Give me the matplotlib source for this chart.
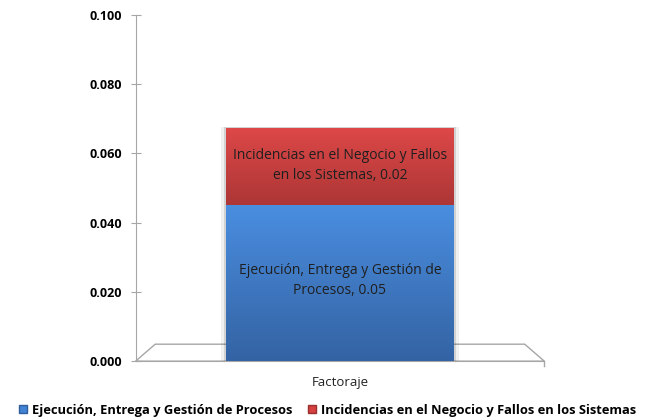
import matplotlib.pyplot as plt
import numpy as np
from matplotlib.patches import Polygon, Rectangle

categories = ['Factoraje']
series_names = ['Ejecución, Entrega y Gestión de Procesos',
                'Incidencias en el Negocio y Fallos en los Sistemas']
blue_vals = [0.0452]
red_vals = [0.0223]
label_vals = ['0.05', '0.02']

plt.rcParams['font.family'] = ['Open Sans', 'DejaVu Sans']

fig = plt.figure(figsize=(6.55, 4.18), dpi=100)
ax = fig.add_axes([0.207, 0.136, 0.624, 0.828])

x = np.arange(len(categories))
width = 0.557

# floor of the pseudo-3d plot area
floor = Polygon([(0.048, 0.049), (0.952, 0.049), (1.0, 0.0), (0.0, 0.0)],
                closed=True, transform=ax.transAxes, facecolor='white',
                edgecolor='#a6a6a6', lw=1.0, zorder=1, clip_on=False)
ax.add_patch(floor)

def gradient_bar(xc, bottom, height, top_col, bot_col, zorder):
    bars = ax.bar(xc, height, width, bottom=bottom, color='none',
                  edgecolor='none', zorder=zorder)
    for b in bars:
        x0, y0 = b.get_x(), b.get_y()
        w, h = b.get_width(), b.get_height()
        grad = np.linspace(0, 1, 256).reshape(-1, 1)
        c0 = np.array(plt.matplotlib.colors.to_rgb(bot_col))
        c1 = np.array(plt.matplotlib.colors.to_rgb(top_col))
        img = c0 + (c1 - c0) * grad[..., None]
        im = ax.imshow(img, extent=[x0, x0 + w, y0, y0 + h], origin='lower',
                       aspect='auto', zorder=zorder, interpolation='bicubic')
        im.set_clip_path(b)
    return bars

# soft shadow
for off, a in [(0.006, 0.12), (0.012, 0.06)]:
    ax.add_patch(Rectangle((x[0] - width / 2 - off, 0), width + 2 * off,
                           blue_vals[0] + red_vals[0] + off * 0.01,
                           facecolor='black', alpha=a, lw=0, zorder=2))

gradient_bar(x, 0, blue_vals, '#4a8ee0', '#3463a3', 3)
gradient_bar(x, blue_vals, red_vals, '#de4848', '#ad3636', 3)

ax.text(x[0], blue_vals[0] * 0.5 + 0.0006,
        'Ejecución, Entrega y Gestión de\nProcesos, ' + label_vals[0],
        ha='center', va='center', fontsize=10, color='#1f1f1f', zorder=5,
        linespacing=1.45)
ax.text(x[0], blue_vals[0] + red_vals[0] * 0.5 + 0.0002,
        'Incidencias en el Negocio y Fallos\nen los Sistemas, ' + label_vals[1],
        ha='center', va='center', fontsize=10, color='#1f1f1f', zorder=5,
        linespacing=1.45)

ax.set_xlim(-0.5, 0.5)
ax.set_ylim(0, 0.1)
ax.set_yticks(np.arange(0, 0.101, 0.02))
ax.set_yticklabels(['%.3f' % v for v in np.arange(0, 0.101, 0.02)],
                   fontweight='bold', fontsize=9)
ax.set_xticks([])
ax.set_xlabel(categories[0], fontsize=9.5, labelpad=11, color='#222222')

for s in ['top', 'right']:
    ax.spines[s].set_visible(False)
ax.spines['left'].set_color('#a6a6a6')
ax.spines['bottom'].set_color('#a6a6a6')
ax.tick_params(axis='y', direction='inout', length=7, color='#a6a6a6', pad=6)
ax.plot([1, 1], [0, -0.015], transform=ax.transAxes, color='#a6a6a6',
        lw=1, clip_on=False)

handles = [Rectangle((0, 0), 1, 1, facecolor='#4283d6', edgecolor='#2f5d9a'),
           Rectangle((0, 0), 1, 1, facecolor='#d64040', edgecolor='#9a2f2f')]
leg = fig.legend(handles, series_names, loc='lower center',
                 bbox_to_anchor=(0.5, -0.025), ncol=2, frameon=False,
                 handlelength=0.6, handleheight=0.6, handletextpad=0.4,
                 columnspacing=1.2, prop={'weight': 'bold', 'size': 9.3})

fig.savefig('out.png', dpi=100)
